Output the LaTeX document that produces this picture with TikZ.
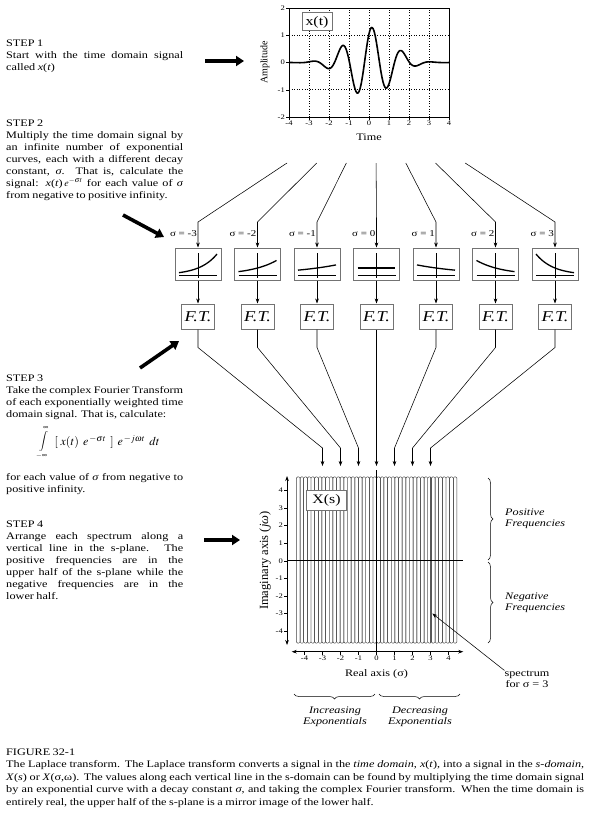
\documentclass[tikz,border=0pt]{standalone}
\usepackage{mathptmx}
\usepackage[no-math]{fontspec}
\setmainfont{Liberation Serif}[FakeStretch=1.22]
\newfontfamily\plainserif{Liberation Serif}
\usetikzlibrary{arrows.meta, decorations.pathreplacing, positioning}

\newcommand{\loosespace}{\spaceskip=0.25em plus 0.3em minus 0.12em}

\tikzset{
  steptext/.style={anchor=north west, inner sep=0pt, text width=177pt, align=justify,
    font=\fontsize{10}{12}\selectfont\loosespace},
  bigarrow/.style={line width=3.6pt, -{Triangle[length=8pt, width=10pt]}},
  wire/.style={line width=0.55pt},
  wirearrow/.style={wire, -{Stealth[length=5pt, width=3.6pt]}},
  graybox/.style={draw=black!55, fill=white, line width=1pt, inner sep=0pt},
  expbox/.style={graybox, minimum width=46pt, minimum height=32pt},
  ftbox/.style={graybox, minimum width=33pt, minimum height=25pt,
    font=\fontsize{15}{16}\selectfont\itshape},
  ticklabel/.style={inner sep=1pt, font=\fontsize{7}{8}\selectfont},
  axislabel/.style={inner sep=0pt, font=\fontsize{10}{11}\selectfont},
  sigmalabel/.style={inner sep=0pt, font=\fontsize{9}{10}\selectfont},
  bracelabel/.style={inner sep=0pt, align=left, font=\fontsize{10}{11}\selectfont\itshape},
  curlybrace/.style={decorate, decoration={brace, amplitude=5pt}, line width=0.5pt},
  strip/.style={line width=0.45pt, black!75, rounded corners=1.2pt},
  declare function={xsig(\t)=1.3*exp(-\t*\t/2.4)*cos(240*(\t-0.15));}
}

\begin{document}
\begin{tikzpicture}[x=1pt, y=-1pt]
\useasboundingbox (0,0) rectangle (591,825);

% the four steps
\node[steptext] (step1) at (6,40) {STEP 1\\ Start with the time domain signal\linebreak
  called \textit{x}(\textit{t})};
\node[steptext] (step2) at (6,119.5) {STEP 2\\ Multiply the time domain signal by\linebreak
  an infinite number of exponential\linebreak curves, each with a different decay\linebreak
  constant, \textit{σ}. That is, calculate the\linebreak
  signal: \textit{x}(\textit{t})\,$e^{-\sigma t}$ for each value of \textit{σ}\linebreak
  from negative to positive infinity.};
\node[steptext] (step3) at (6,374.5) {STEP 3\\ Take the complex Fourier Transform\linebreak
  of each exponentially weighted time\linebreak domain signal. That is, calculate:};
\node[inner sep=0pt, anchor=west, font=\fontsize{10}{12}\selectfont] (integral) at (38,442)
  {$\displaystyle\int\limits_{-\infty}^{\infty}$};
\node[inner sep=0pt, right=5pt of integral, font=\fontsize{12}{14}\selectfont] (integrand)
  {$[\;x(t)\;\,e^{\,-\sigma t}\;\,]\;\,e^{\,-j\omega t}\;\,dt$};
\node[steptext] (step3b) at (6,473) {for each value of \textit{σ} from negative to\linebreak
  positive infinity.};
\node[steptext] (step4) at (6,520.5) {STEP 4\\ Arrange each spectrum along a\linebreak
  vertical line in the s-plane. The\linebreak positive frequencies are in the\linebreak
  upper half of the s-plane while the\linebreak negative frequencies are in the\linebreak
  lower half.};

% block arrows
\coordinate (a1s) at (205,61);  \coordinate (a1e) at (244,61);
\coordinate (a2s) at (123,215); \coordinate (a2e) at (164,237);
\coordinate (a3s) at (140,368); \coordinate (a3e) at (179,341);
\coordinate (a4s) at (204,540); \coordinate (a4e) at (240,540);
\draw[bigarrow] (a1s) -- (a1e);
\draw[bigarrow] (a2s) -- (a2e);
\draw[bigarrow] (a3s) -- (a3e);
\draw[bigarrow] (a4s) -- (a4e);

% time signal
\begin{scope}[shift={(369,62.5)}, x=20pt, y=27.25pt]
  \foreach \t in {-3,...,3}
    \draw[dotted, line width=0.6pt] (\t,-2) -- (\t,2);
  \foreach \a in {-1,1}
    \draw[dotted, line width=0.6pt] (-4,\a) -- (4,\a);
  \draw[line width=0.7pt] (-4,-2) rectangle (4,2);
  \foreach \t in {-4,...,4}
    \draw (\t,-2) -- ++(0pt,-3pt) node[ticklabel, below] {\t};
  \foreach \a in {-2,...,2}
    \draw (-4,\a) -- ++(-3pt,0pt) node[ticklabel, left] {\a};
  \node[axislabel] (timelbl) at (0,-2.73) {Time};
  \node[inner sep=0pt, font=\plainserif\fontsize{10}{11}\selectfont, rotate=90] (amplbl) at (-5.2,0) {Amplitude};
  \draw[line width=1.6pt, line join=round] plot[domain=-4:4, samples=161, smooth] (\x, {xsig(\x)});
  \node[graybox, minimum width=30pt, minimum height=18pt, font=\fontsize{13}{14}\selectfont]
    (xtbox) at (-2.6,1.49) {x(t)};
\end{scope}

% exponentials and Fourier transforms
\foreach \s [count=\i] in {-3,...,3} {
  \pgfmathsetmacro{\col}{198+59.5*(\i-1)}
  \coordinate (fan\i) at ({287+29.7*(\i-1)},163);
  \coordinate (in\i) at ({376.5+18*\s},466);
  \node[expbox] (exp\i) at (\col,264) {};
  \node[ftbox] (ft\i) at (\col,316.5) {F.T.};
  \node[sigmalabel, anchor=east] (sig\i) at (\col-1,234) {σ = \s};
  \draw[wirearrow] (fan\i) -- (\col,222) -- (exp\i.north);
  \draw[wirearrow] (exp\i.south) -- (ft\i.north);
  \draw[wirearrow] (ft\i.south) -- ++(0,18) -- (in\i |- 0,448) -- (in\i);
  \begin{scope}[shift={(exp\i.center)}]
    \draw[line width=0.6pt] (-19,11) -- (19,11);
    \draw[line width=0.6pt] (0,-11) -- (0,14);
    \draw[line width=1.3pt] plot[domain=-1:1, samples=30] ({19*\x},{11-7*exp(-0.366*(\s)*\x)});
  \end{scope}
}

% s-plane
\begin{scope}[shift={(376.5,560.7)}, x=18pt, y=17.6pt]
  \foreach \k in {0,...,43}
    \draw[strip] ({-4.45+0.2027*\k},-4.68) rectangle ++(0.2027,9.44);
  \draw[line width=1.6pt, black!65] (3,-4.68) -- (3,4.76);
  \draw[line width=1.4pt] (-4.97,0) -- (4.8,0);
  \draw[line width=1.4pt] (0,5.15) -- (0,-5.17);
  \draw[wire, {Stealth[length=5pt, width=3.6pt]}-{Stealth[length=5pt, width=3.6pt]}]
    (-4.97,4.81) -- (-4.97,-4.79);
  \foreach \w in {-4,...,4}
    \draw (-4.97,\w) -- ++(-3pt,0pt) node[ticklabel, left] {\w};
  \draw[wire, {Stealth[length=5pt, width=3.6pt]}-{Stealth[length=5pt, width=3.6pt]}]
    (-4.71,-5.17) -- (4.82,-5.17);
  \foreach \r in {-4,...,4}
    \draw (\r,-5.17) -- ++(0pt,-3pt) node[ticklabel, below] {\r};
  \node[axislabel] (reallbl) at (0,-6.44) {Real axis (σ)};
  \node[inner sep=0pt, font=\plainserif\fontsize{12.5}{13}\selectfont, rotate=90] (imaglbl)
    at (-6.19,0) {Imaginary axis (\textit{jω})};
  \node[graybox, minimum width=40pt, minimum height=20pt, font=\fontsize{13}{14}\selectfont]
    (xsbox) at (-2.78,3.41) {X(s)};
  \coordinate (sig3pt) at (3.1,-3);
\end{scope}

% braces and notes
\draw[curlybrace] (488,478) -- (488,560);
\draw[curlybrace] (488,562) -- (488,643);
\node[bracelabel, anchor=west] (poslbl) at (505,519) {Positive\\Frequencies};
\node[bracelabel, anchor=west] (neglbl) at (505,603) {Negative\\Frequencies};
\draw[curlybrace] (375,694) -- (294,694);
\draw[curlybrace] (460,694) -- (379,694);
\node[bracelabel, align=center] (inclbl) at (335,717) {Increasing\\Exponentials};
\node[bracelabel, align=center] (declbl) at (420,717) {Decreasing\\Exponentials};
\node[axislabel, align=center] (spec) at (527,679) {spectrum\\ for σ = 3};
\draw[wirearrow] (spec.north west) -- (sig3pt);

% caption
\node[anchor=north west, inner sep=0pt, text width=578pt, align=justify,
  font=\fontsize{10}{12.5}\selectfont\loosespace] (caption) at (6,748.5) {FIGURE 32-1\\
  The Laplace transform. The Laplace transform converts a signal in the \textit{time domain}, \textit{x}(\textit{t}), into a signal in the \textit{s-domain},\linebreak
  \textit{X}(\textit{s}) or \textit{X}(σ,ω). The values along each vertical line in the s-domain can be found by multiplying the time domain signal\linebreak
  by an exponential curve with a decay constant \textit{σ}, and taking the complex Fourier transform. When the time domain is\linebreak
  entirely real, the upper half of the s-plane is a mirror image of the lower half.};
\end{tikzpicture}
\end{document}
